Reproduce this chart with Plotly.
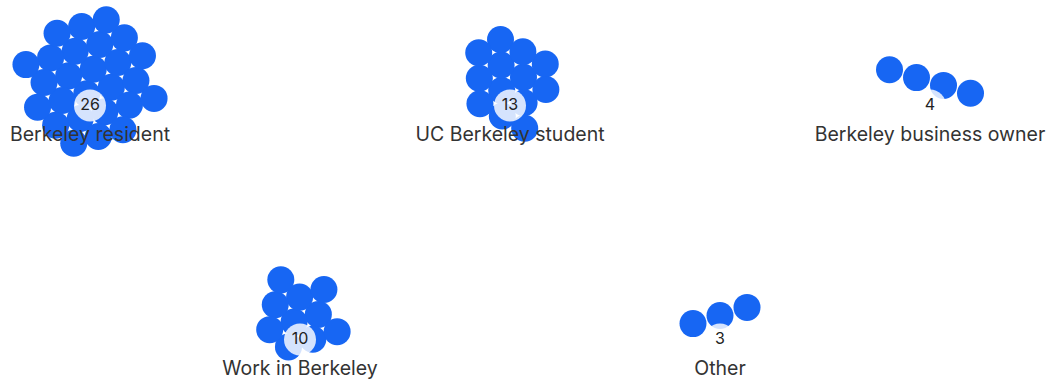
import numpy as np
import plotly.graph_objects as go

# ---- data ----
categories = ["Berkeley resident", "UC Berkeley student", "Berkeley business owner",
              "Work in Berkeley", "Other"]
counts = [26, 13, 4, 10, 3]

# ---- layout helpers (axis units = window pixels) ----
W, H = 1048, 386
DOT = 27          # marker diameter
SPACING = 25.5    # collision distance between dot centres
COL_X0, COL_DX, ROW_SHIFT = 90, 420, 210
ROW_Y0, ROW_DY = 105.5, 234
LIFT = 24         # dot cluster centre sits above the count badge
LABEL_GAP = 30.5  # category label below the count badge
CHAIN_TILT = {2: 0.29, 4: -0.30}   # small groups drift as a tilted chain


def cluster_centre(i):
    row = 0 if i < 3 else 1
    col = i if i < 3 else i - 3
    return COL_X0 + COL_DX * col + ROW_SHIFT * row, ROW_Y0 + ROW_DY * row


def pack(n, cx, cy):
    """Deterministic force-style packing (phyllotaxis start + collision)."""
    k = np.arange(n)
    ang = k * np.pi * (3 - np.sqrt(5))
    rad = 10 * np.sqrt(0.5 + k)
    p = np.stack([cx + rad * np.cos(ang), cy + rad * np.sin(ang)], axis=1)
    eye = np.eye(n)
    for it in range(400):
        alpha = 1 - it / 400
        c = np.array([cx, cy])
        p += (c - p) * 0.06 * alpha
        for _ in range(3):
            d = p[:, None, :] - p[None, :, :]
            dist = np.sqrt((d ** 2).sum(-1)) + eye
            over = np.clip(SPACING - dist, 0, None) * (1 - eye)
            push = (d / dist[..., None]) * over[..., None] * 0.5
            p += push.sum(axis=1)
    p += np.array([cx, cy]) - p.mean(axis=0)
    return p


def chain(n, cx, cy, tilt):
    step = 27.0
    k = np.arange(n) - (n - 1) / 2
    return np.stack([cx + k * step, cy + k * step * tilt], axis=1)


fig = go.Figure()
xs, ys = [], []
bx, by, lx, ly = [], [], [], []
for i, (cat, n) in enumerate(zip(categories, counts)):
    cx, cy = cluster_centre(i)
    if i in CHAIN_TILT:
        pts = chain(n, cx, cy - LIFT, CHAIN_TILT[i])
    else:
        pts = pack(n, cx, cy - LIFT)
    xs += list(pts[:, 0]); ys += list(pts[:, 1])
    bx.append(cx); by.append(cy)
    lx.append(cx); ly.append(cy + LABEL_GAP)

fig.add_trace(go.Scatter(x=xs, y=ys, mode="markers",
                         marker=dict(size=DOT, color="#1766f3", line=dict(width=0)),
                         hoverinfo="skip", showlegend=False))
fig.add_trace(go.Scatter(x=bx, y=by, mode="markers+text",
                         marker=dict(size=32, color="rgba(255,255,255,0.82)", line=dict(width=0)),
                         text=[str(c) for c in counts], textposition="middle center",
                         textfont=dict(family="Inter, Lato, sans-serif", size=16, color="#222"),
                         hoverinfo="skip", showlegend=False))
fig.add_trace(go.Scatter(x=lx, y=ly, mode="text", text=categories,
                         textposition="middle center", cliponaxis=False,
                         textfont=dict(family="Inter, Lato, sans-serif", size=19.5, color="#333"),
                         hoverinfo="skip", showlegend=False))

fig.update_layout(width=W, height=H,
                  margin=dict(l=0, r=0, t=0, b=0),
                  paper_bgcolor="white", plot_bgcolor="white",
                  xaxis=dict(range=[0, W], visible=False, fixedrange=True),
                  yaxis=dict(range=[H, 0], visible=False, fixedrange=True))
fig.write_html("out.html", config={"displayModeBar": False},
               post_script="document.body.style.margin='0';document.body.style.overflow='hidden';")
